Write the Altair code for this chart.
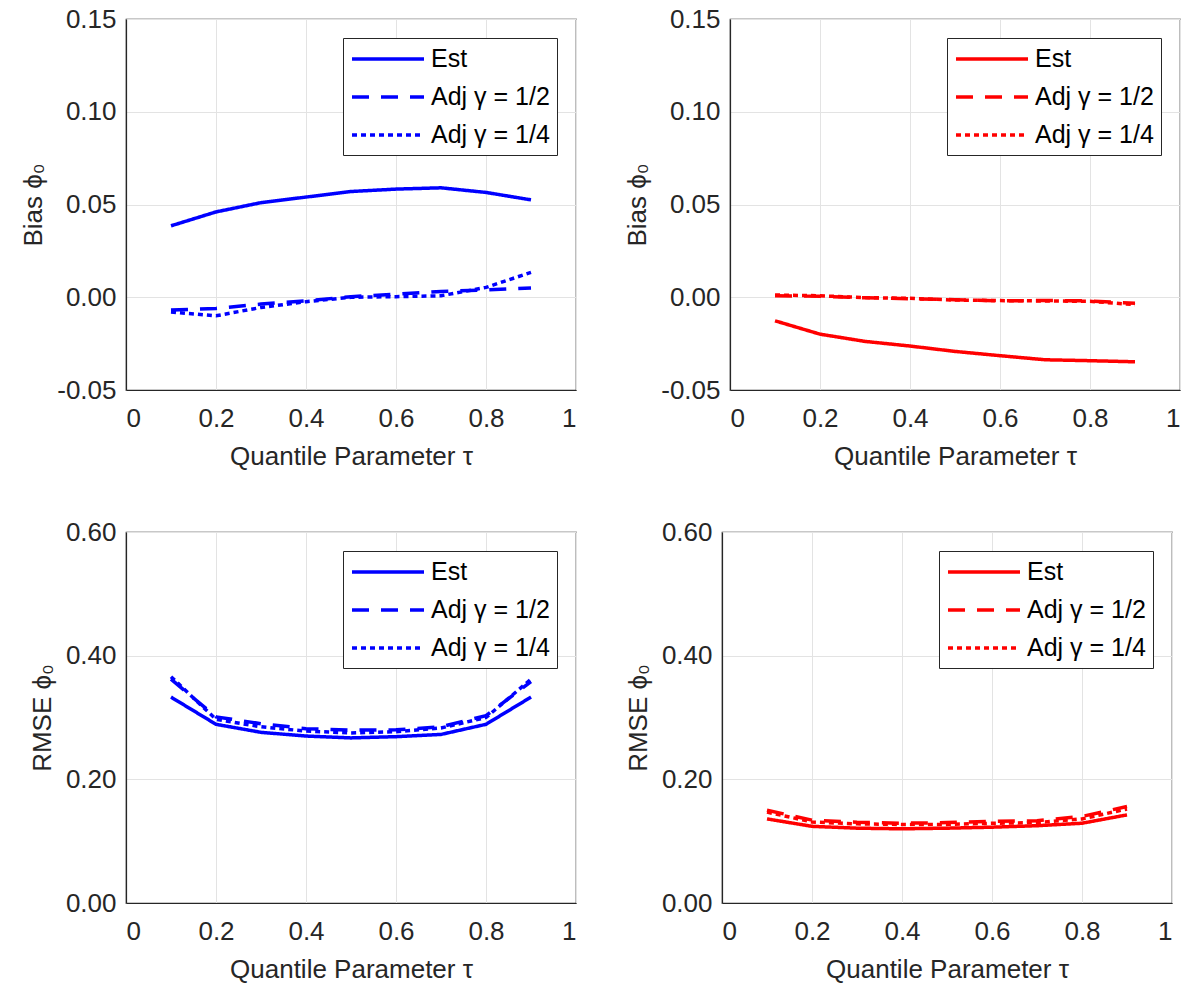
import altair as alt
import pandas as pd

tau = [0.1, 0.2, 0.3, 0.4, 0.5, 0.6, 0.7, 0.8, 0.9]
series_names = ["Est", "Adj γ = 1/2", "Adj γ = 1/4"]

# Top-left (blue) bias
bias_l_est = [0.0385, 0.046, 0.051, 0.054, 0.057, 0.0583, 0.059, 0.0565, 0.0525]
bias_l_adj2 = [-0.0069, -0.006, -0.0037, -0.0019, 0.0003, 0.0017, 0.0031, 0.0039, 0.005]
bias_l_adj4 = [-0.008, -0.010, -0.0055, -0.0024, 0.0, 0.0003, 0.0008, 0.0053, 0.0134]

# Top-right (red) bias
bias_r_est = [-0.0127, -0.0199, -0.0238, -0.0263, -0.0292, -0.0315, -0.0337, -0.0342, -0.0348]
bias_r_adj2 = [0.0008, 0.0005, -0.0003, -0.0008, -0.0013, -0.002, -0.0017, -0.002, -0.0033]
bias_r_adj4 = [0.0012, 0.0008, -0.0002, -0.0006, -0.0015, -0.0018, -0.002, -0.0022, -0.004]

# Bottom-left (blue) RMSE
rmse_l_est = [0.333, 0.289, 0.276, 0.270, 0.267, 0.269, 0.2726, 0.289, 0.333]
rmse_l_adj2 = [0.362, 0.301, 0.290, 0.282, 0.2796, 0.280, 0.285, 0.303, 0.358]
rmse_l_adj4 = [0.366, 0.297, 0.285, 0.278, 0.275, 0.277, 0.283, 0.300, 0.362]

# Bottom-right (red) RMSE
rmse_r_est = [0.136, 0.124, 0.121, 0.120, 0.121, 0.1226, 0.125, 0.129, 0.1425]
rmse_r_adj2 = [0.150, 0.134, 0.1306, 0.129, 0.130, 0.132, 0.133, 0.140, 0.156]
rmse_r_adj4 = [0.147, 0.131, 0.128, 0.127, 0.127, 0.129, 0.130, 0.136, 0.152]

x_ticks = [0, 0.2, 0.4, 0.6, 0.8, 1]
bias_ticks = [-0.05, 0.0, 0.05, 0.10, 0.15]
rmse_ticks = [0.0, 0.2, 0.4, 0.6]

FONT = "Liberation Sans"
FS = 26


def make_df(est, adj2, adj4):
    rows = []
    for name, vals in zip(series_names, [est, adj2, adj4]):
        for t, v in zip(tau, vals):
            rows.append({"tau": t, "value": v, "series": name})
    return pd.DataFrame(rows)


YLABEL = "datum.value < 0 ? '-' + format(abs(datum.value), '.2f') : format(datum.value, '.2f')"


def panel(est, adj2, adj4, color, ytitle, ydomain, yticks):
    df = make_df(est, adj2, adj4)
    legend = alt.Legend(
        title=None,
        orient="top-right",
        offset=19,
        strokeColor="#262626",
        fillColor="white",
        padding=7,
        symbolType="M-1,0H5",
        symbolSize=576,
        symbolStrokeWidth=3.5,
        labelFont=FONT,
        labelFontSize=25,
        labelColor="black",
        rowPadding=11,
        labelOffset=53,
        cornerRadius=0,
    )
    return (
        alt.Chart(df)
        .mark_line(strokeWidth=3.5, clip=True)
        .encode(
            x=alt.X(
                "tau:Q",
                scale=alt.Scale(domain=[0, 1], nice=False),
                axis=alt.Axis(
                    values=x_ticks,
                    format="~g",
                    title="Quantile Parameter τ",
                    labelPadding=15,
                    titlePadding=12,
                ),
            ),
            y=alt.Y(
                "value:Q",
                scale=alt.Scale(domain=ydomain, nice=False, zero=False),
                axis=alt.Axis(
                    values=yticks,
                    labelExpr=YLABEL,
                    title=ytitle,
                    labelPadding=10,
                    titlePadding=10,
                ),
            ),
            color=alt.Color(
                "series:N",
                sort=series_names,
                scale=alt.Scale(domain=series_names, range=[color, color, color]),
                legend=legend,
            ),
            strokeDash=alt.StrokeDash(
                "series:N",
                sort=series_names,
                scale=alt.Scale(domain=series_names, range=[[1, 0], [17, 12], [5, 4]]),
                legend=legend,
            ),
        )
        .properties(width=450, height=371)
    )


BLUE = "#0000ff"
RED = "#ff0000"

tl = panel(bias_l_est, bias_l_adj2, bias_l_adj4, BLUE, "Bias ϕ₀", [-0.05, 0.15], bias_ticks)
tr = panel(bias_r_est, bias_r_adj2, bias_r_adj4, RED, "Bias ϕ₀", [-0.05, 0.15], bias_ticks)
bl = panel(rmse_l_est, rmse_l_adj2, rmse_l_adj4, BLUE, "RMSE ϕ₀", [0, 0.6], rmse_ticks)
br = panel(rmse_r_est, rmse_r_adj2, rmse_r_adj4, RED, "RMSE ϕ₀", [0, 0.6], rmse_ticks)

res = dict(color="independent", strokeDash="independent")
top = alt.hconcat(tl, tr, spacing=47).resolve_scale(**res)
bottom = alt.hconcat(bl, br, spacing=47).resolve_scale(**res)

chart = (
    alt.vconcat(top, bottom, spacing=48)
    .resolve_scale(**res)
    .configure(font=FONT, padding={"left": 20, "top": 5, "right": 5, "bottom": 5})
    .configure_view(stroke="#262626", strokeWidth=1.2)
    .configure_axis(
        labelFont=FONT,
        labelFontSize=FS,
        labelColor="#262626",
        titleFont=FONT,
        titleFontSize=FS,
        titleFontWeight="normal",
        titleColor="#262626",
        gridColor="#e3e3e3",
        gridWidth=1,
        domainColor="#262626",
        domainWidth=1.2,
        ticks=False,
    )
)

chart.save("out.html", embed_options={"renderer": "svg", "actions": False})
